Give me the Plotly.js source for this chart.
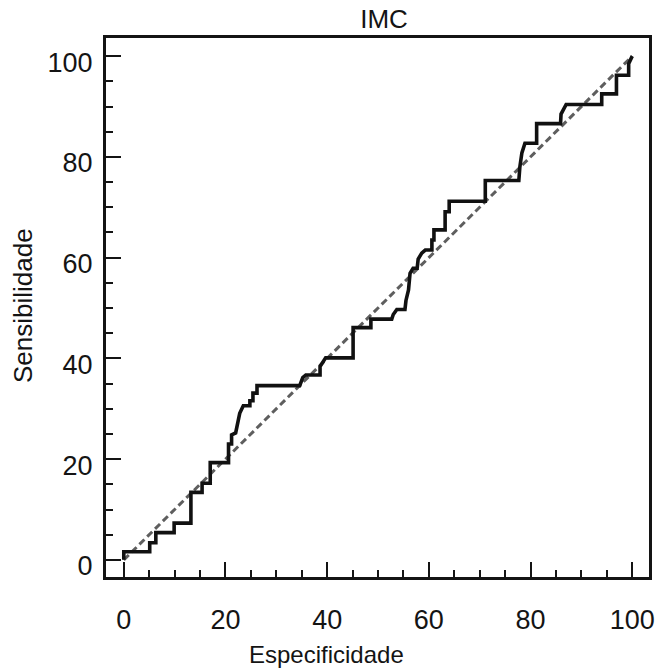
<!DOCTYPE html>
<html>
<head>
<meta charset="utf-8">
<script src="https://cdn.plot.ly/plotly-3.0.1.min.js"></script>
<style>html,body{margin:0;padding:0;background:#fff;}#chart{width:669px;height:668px;}</style>
</head>
<body>
<div id="chart"></div>
<script>
// ROC curve points (Especificidade axis value, Sensibilidade)
var rocX = [0, 0, 5.1, 5.1, 6.3, 6.3, 9.9, 9.9, 13.2, 13.2, 15.4, 15.4, 17.0, 17.0, 20.6, 20.6, 21.2, 21.2, 22.0, 22.3, 22.8, 23.5, 24.8, 24.8, 25.4, 25.4, 26.2, 26.2, 34.6, 35.2, 35.8, 38.6, 38.6, 39.7, 45.1, 45.1, 48.6, 48.6, 52.7, 53.0, 53.7, 55.3, 55.5, 56.0, 56.3, 56.9, 57.7, 57.9, 58.6, 59.3, 60.6, 60.6, 61.0, 61.0, 63.2, 63.2, 64.0, 64.0, 71.1, 71.1, 77.7, 77.9, 78.3, 78.9, 81.2, 81.2, 85.9, 86.0, 87.0, 94.0, 94.0, 96.9, 96.9, 99.3, 99.3, 100];
var rocY = [0, 1.6, 1.6, 3.4, 3.4, 5.4, 5.4, 7.3, 7.3, 13.4, 13.4, 15.2, 15.2, 19.3, 19.3, 23.0, 23.0, 24.8, 25.2, 27.0, 29.1, 30.6, 30.6, 31.6, 31.6, 33.1, 33.1, 34.6, 34.6, 36.2, 36.7, 36.7, 38.4, 40.1, 40.1, 46.1, 46.1, 47.8, 47.8, 48.7, 49.7, 49.7, 51.5, 53.6, 56.9, 57.9, 57.9, 59.7, 60.9, 61.5, 61.5, 63.5, 63.5, 65.5, 65.5, 69.1, 69.1, 71.2, 71.2, 75.3, 75.3, 78.0, 80.8, 82.7, 82.7, 86.6, 86.6, 88.5, 90.4, 90.4, 92.5, 92.5, 96.2, 96.2, 98.5, 100];
// Reference diagonal
var diagX = [0, 100];
var diagY = [0, 100];
var tickVals = [0, 20, 40, 60, 80, 100];
var tickText = ['0', '20', '40', '60', '80', '100'];
var titleText = 'IMC';
var xTitle = 'Especificidade';
var yTitle = 'Sensibilidade';

var font = 'Liberation Sans, Arial, sans-serif';
var ink = '#141414';

var traces = [
  {x: diagX, y: diagY, mode: 'lines', type: 'scatter', hoverinfo: 'skip',
   line: {color: '#5e5e5e', width: 3, dash: '7px,4px'}},
  {x: rocX, y: rocY, mode: 'lines', type: 'scatter',
   line: {color: '#111111', width: 3.6, shape: 'linear'}}
];

var axisCommon = {
  showgrid: false, zeroline: false, showline: true, linecolor: ink, linewidth: 3,
  mirror: true, ticks: 'inside', ticklen: 15, tickwidth: 2, tickcolor: ink,
  tickvals: tickVals, ticktext: tickText,
  tickfont: {family: font, size: 27, color: ink},
  minor: {dtick: 5, tick0: 0, ticks: 'inside', ticklen: 7, tickwidth: 2, tickcolor: ink, showgrid: false}
};

var layout = {
  width: 669, height: 668,
  margin: {l: 106, r: 20, t: 38, b: 91},
  paper_bgcolor: '#ffffff', plot_bgcolor: '#ffffff',
  showlegend: false,
  font: {family: font, color: ink},
  title: {text: titleText, x: 384 / 669, xanchor: 'center', y: 1 - 19 / 668, yanchor: 'middle',
          font: {family: font, size: 26, color: ink}},
  xaxis: Object.assign({}, axisCommon, {range: [-3.5, 103.3], ticklabelstandoff: 17}),
  yaxis: Object.assign({}, axisCommon, {range: [-3.4, 103.6], ticklabelstandoff: 5, ticklabelshift: 6}),
  annotations: [
    {text: xTitle, xref: 'paper', yref: 'paper', x: (326 - 106) / 543, y: (577 - 654) / 539,
     xanchor: 'center', yanchor: 'middle', showarrow: false, font: {family: font, size: 24, color: ink}},
    {text: yTitle, xref: 'paper', yref: 'paper', x: (23 - 106) / 543, y: (577 - 306) / 539,
     xanchor: 'center', yanchor: 'middle', textangle: -90, showarrow: false, font: {family: font, size: 26, color: ink}}
  ]
};

Plotly.newPlot('chart', traces, layout, {staticPlot: true, displayModeBar: false});
</script>
</body>
</html>
